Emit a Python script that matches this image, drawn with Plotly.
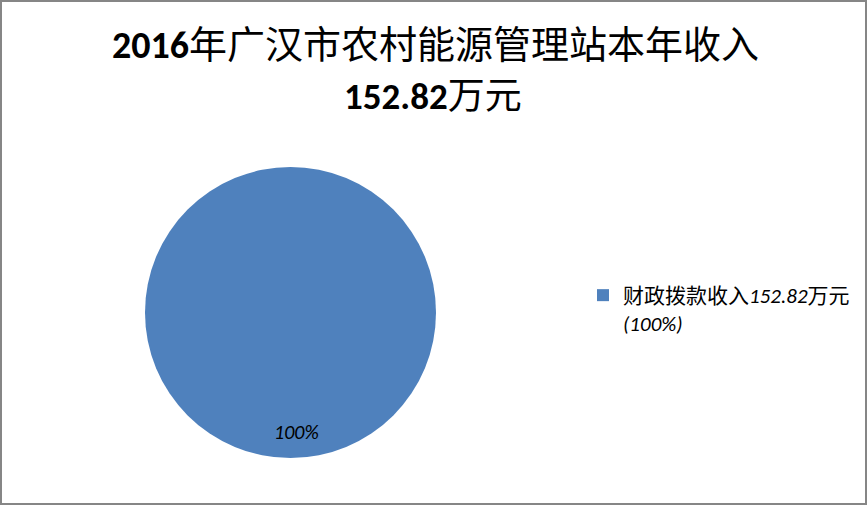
import plotly.graph_objects as go

title_year = "2016"
title_rest = "年广汉市农村能源管理站本年收入"
total_label = "152.82"
unit = "万元"
categories = ["财政拨款收入"]
values = [152.82]

total = sum(values)
pcts = [v / total * 100 for v in values]

legend_names = [
    f"{c}<i>{v:.2f}</i>{unit}<br><i>({p:.0f}%)</i>" for c, v, p in zip(categories, values, pcts)
]

fig = go.Figure()
fig.add_trace(go.Pie(
    labels=legend_names,
    values=values,
    marker=dict(colors=["#4F81BD"], line=dict(width=0)),
    textinfo="none",
    sort=False,
    direction="clockwise",
    domain=dict(x=[145/868, 436/868], y=[1-458/506, 1-167/506]),
    hoverinfo="label+value+percent",
))

font_fam = "Calibri, Carlito, 'Liberation Sans', 'Noto Sans CJK SC', sans-serif"

fig.add_annotation(text=f"<b>{title_year}</b>{title_rest}",
                   x=435/868, y=1-45/506, xref="paper", yref="paper",
                   showarrow=False, xanchor="center", yanchor="middle",
                   font=dict(size=38, color="#000000", family=font_fam))
fig.add_annotation(text=f"<b>{total_label}</b>{unit}",
                   x=433/868, y=1-96/506, xref="paper", yref="paper",
                   showarrow=False, xanchor="center", yanchor="middle",
                   font=dict(size=37, color="#000000", family=font_fam))
fig.add_annotation(text=f"<i>{pcts[0]:.0f}%</i>",
                   x=296/868, y=1-432/506, xref="paper", yref="paper",
                   showarrow=False, xanchor="center", yanchor="middle",
                   font=dict(size=20, color="#000000", family=font_fam))

fig.add_shape(type="rect", xref="paper", yref="paper",
              x0=1/868, x1=866/868, y0=1-504/506, y1=1-1/506,
              line=dict(color="#868686", width=2))

fig.update_layout(
    width=868, height=506,
    margin=dict(l=0, r=0, t=0, b=0),
    paper_bgcolor="white",
    plot_bgcolor="white",
    showlegend=True,
    legend=dict(x=583/868, y=1-275/506, xanchor="left", yanchor="top",
                valign="top",
                font=dict(size=21, color="#000000", family=font_fam),
                bgcolor="rgba(0,0,0,0)", itemwidth=30),
)

fig.write_html("out.html",
               config={"displayModeBar": False},
               post_script="document.body.style.margin='0';document.body.style.overflow='hidden';")
